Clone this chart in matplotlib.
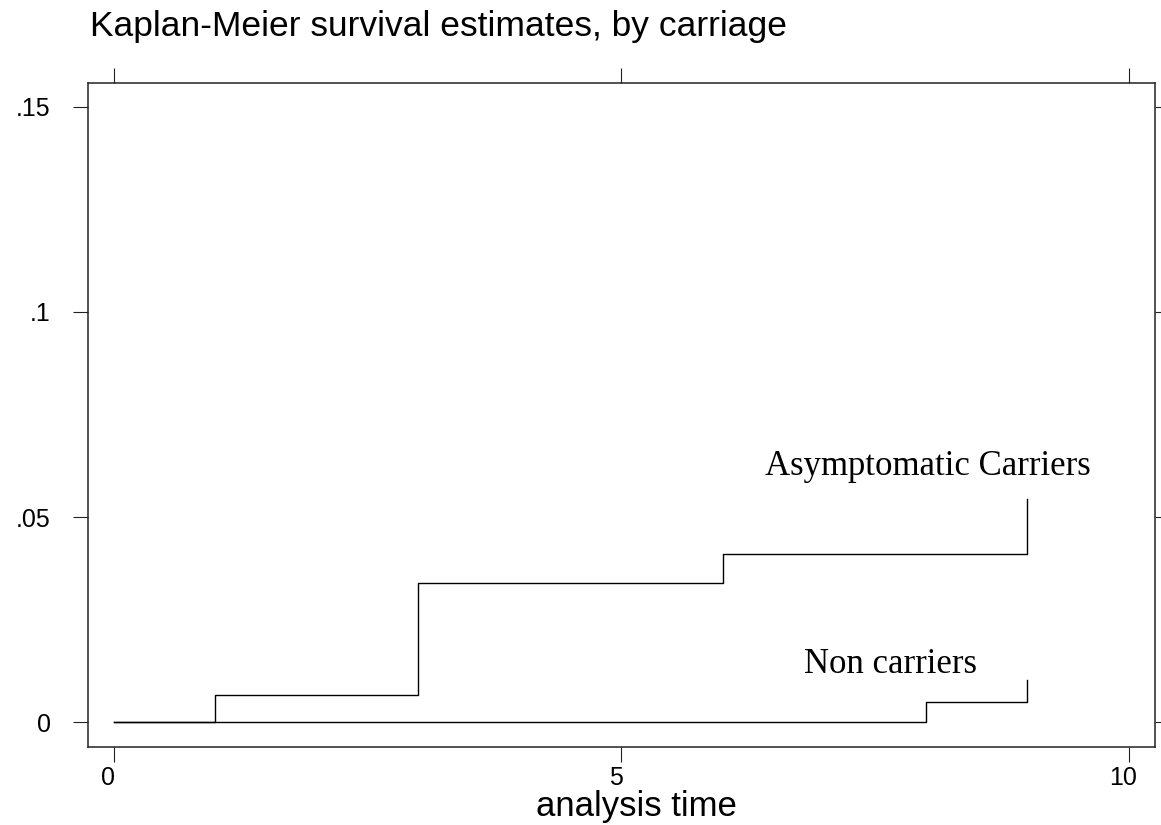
import matplotlib
matplotlib.use("Agg")
import matplotlib.pyplot as plt
from matplotlib.transforms import ScaledTranslation

# Kaplan-Meier failure steps (time, cumulative failure)
asym_t = [0, 1, 3, 6, 9, 9]
asym_f = [0.0, 0.0067, 0.034, 0.0409, 0.0409, 0.0543]
non_t = [0, 8, 9, 9]
non_f = [0.0, 0.00495, 0.00495, 0.0102]

x_ticks = [0, 5, 10]
y_ticks = [0, 0.05, 0.10, 0.15]
y_labels = ["0", ".05", ".1", ".15"]

fig = plt.figure(figsize=(11.61, 8.25), dpi=100)
ax = fig.add_axes([0.0758, 0.0949, 0.9948 - 0.0758, 0.8998 - 0.0949])

ax.step(asym_t, asym_f, where="post", color="black", lw=1.0)
ax.step(non_t, non_f, where="post", color="black", lw=1.0)

ax.text(6.414, 0.0602, "Asymptomatic Carriers", family="Liberation Serif",
        fontsize=25, ha="left", va="baseline")
ax.text(6.798, 0.01195, "Non carriers", family="Liberation Serif",
        fontsize=25, ha="left", va="baseline")

ax.set_xlim(-0.256, 10.256)
ax.set_ylim(-0.006, 0.1559)
ax.set_xticks(x_ticks)
ax.set_xticklabels([str(v) for v in x_ticks])
ax.set_yticks(y_ticks)
ax.set_yticklabels(y_labels)

for s in ax.spines.values():
    s.set_linewidth(1.1)
    s.set_color("#222222")

ax.tick_params(axis="both", which="major", direction="out", length=11,
               width=0.8, color="#222222", labelsize=18,
               top=True, right=True, labeltop=False, labelright=False)
ax.tick_params(axis="y", pad=16)
ax.tick_params(axis="x", pad=3)
for lab in ax.get_xticklabels() + ax.get_yticklabels():
    lab.set_family("Liberation Sans")
# x labels sit a little left of their ticks in the original
shift = ScaledTranslation(-6 / 100, 0, fig.dpi_scale_trans)
for lab in ax.get_xticklabels():
    lab.set_transform(lab.get_transform() + shift)

# axis title and chart title placed at their baselines
fig.text(636 / 1161, 1 - 816 / 825, "analysis time", family="Liberation Sans",
         fontsize=25, ha="center", va="baseline")
fig.text(0.0775, 1 - 36 / 825, "Kaplan-Meier survival estimates, by carriage",
         family="Liberation Sans", fontsize=25.5, ha="left", va="baseline")

fig.savefig("out.png", dpi=100)
